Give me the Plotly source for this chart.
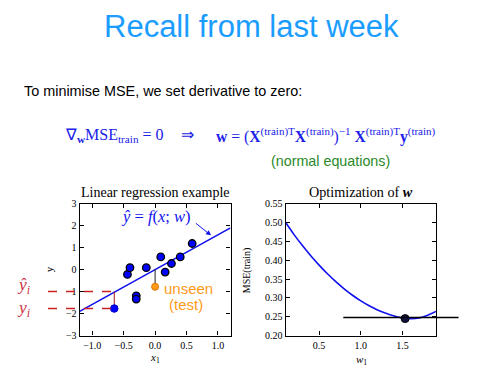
import plotly.graph_objects as go

W, H = 503, 373

# ---------------- data ----------------
train_x = [-0.44, -0.40, -0.14, -0.30, -0.30, 0.09, 0.16, 0.26, 0.40, 0.59]
train_y = [-0.22, 0.09, 0.09, -1.19, -1.34, 0.58, -0.11, 0.28, 0.58, 1.19]
fit_x = [-1.2, 1.2]
fit_y = [-1.9, 1.9]
sel_x = [-0.65]
sel_y = [-1.77]
sel_yhat = [-1.00]
test_x = [0.0]
test_y = [-0.78]
test_yhat = [0.02]

w1 = [0.1, 0.2, 0.3, 0.4, 0.5, 0.6, 0.7, 0.8, 0.9, 1.0,
      1.1, 1.2, 1.3, 1.4, 1.5, 1.6, 1.7, 1.8, 1.9]
mse = [0.500, 0.468, 0.439, 0.412, 0.387, 0.364, 0.343, 0.324, 0.307, 0.292,
       0.279, 0.268, 0.259, 0.252, 0.247, 0.245, 0.247, 0.254, 0.264]
opt_w = [1.53]
opt_mse = [0.245]
tangent_w = [0.79, 2.17]
tangent_mse = 0.248

left_xticks = [-1.0, -0.5, 0.0, 0.5, 1.0]
left_xlabels = ["\u22121.0", "\u22120.5", "0.0", "0.5", "1.0"]
left_yticks = [-3, -2, -1, 0, 1, 2, 3]
left_ylabels = ["\u22123", "\u22122", "\u22121", "0", "1", "2", "3"]
right_xticks = [0.5, 1.0, 1.5]
right_xlabels = ["0.5", "1.0", "1.5"]
right_yticks = [0.20, 0.25, 0.30, 0.35, 0.40, 0.45, 0.50, 0.55]
right_ylabels = ["0.20", "0.25", "0.30", "0.35", "0.40", "0.45", "0.50", "0.55"]

# ---------------- layout geometry ----------------
def px_x(p):
    return p / W

def px_y(p):
    return 1 - p / H

L_DOM_X = [px_x(79.7), px_x(230.5)]
R_DOM_X = [px_x(285.7), px_x(436.0)]
DOM_Y = [px_y(340.5), px_y(204.3)]
L_RX = [-1.2, 1.2]
L_RY = [-3, 3]
R_RX = [0.1, 1.9]
R_RY = [0.2, 0.55]

def to_paper_x(v, dom, rng):
    return dom[0] + (v - rng[0]) / (rng[1] - rng[0]) * (dom[1] - dom[0])

SERIF = "Liberation Serif"
SANS = "Liberation Sans"
BLUE = "#1010ee"

fig = go.Figure()

# left plot
fig.add_trace(go.Scatter(x=fit_x, y=fit_y, mode="lines",
                         line=dict(color=BLUE, width=1.6), xaxis="x", yaxis="y"))
fig.add_trace(go.Scatter(x=[test_x[0], test_x[0]], y=[test_y[0], test_yhat[0]], mode="lines",
                         line=dict(color="#222222", width=1), xaxis="x", yaxis="y"))
fig.add_trace(go.Scatter(x=[sel_x[0], sel_x[0]], y=[sel_y[0], sel_yhat[0]], mode="lines",
                         line=dict(color="#a01818", width=1), xaxis="x", yaxis="y"))
fig.add_trace(go.Scatter(x=train_x, y=train_y, mode="markers",
                         marker=dict(color="#0000ff", size=7.5, line=dict(color="black", width=1.3)),
                         xaxis="x", yaxis="y"))
fig.add_trace(go.Scatter(x=sel_x, y=sel_y, mode="markers",
                         marker=dict(color="#0000ff", size=7.5, line=dict(color="#0000cc", width=1)),
                         xaxis="x", yaxis="y"))
fig.add_trace(go.Scatter(x=test_x, y=test_y, mode="markers",
                         marker=dict(color="#ff9a1a", size=7, line=dict(color="#e07800", width=1)),
                         xaxis="x", yaxis="y", cliponaxis=False))

# right plot
fig.add_trace(go.Scatter(x=w1, y=mse, mode="lines", line=dict(color=BLUE, width=1.6, shape="spline"),
                         xaxis="x2", yaxis="y2"))
fig.add_trace(go.Scatter(x=opt_w, y=opt_mse, mode="markers",
                         marker=dict(color="#101040", size=8, line=dict(color="black", width=1)),
                         xaxis="x2", yaxis="y2"))

axis_common = dict(showline=True, linecolor="black", linewidth=1.2, mirror="allticks",
                   ticks="inside", ticklen=4, tickwidth=1, tickcolor="black",
                   showgrid=False, zeroline=False,
                   tickfont=dict(family=SERIF, size=10, color="black"))

fig.update_layout(
    width=W, height=H, margin=dict(l=0, r=0, t=0, b=0),
    paper_bgcolor="white", plot_bgcolor="white", showlegend=False,
    xaxis=dict(domain=L_DOM_X, range=L_RX, anchor="y", tickvals=left_xticks,
               ticktext=left_xlabels, **axis_common),
    yaxis=dict(domain=DOM_Y, range=L_RY, anchor="x", tickvals=left_yticks,
               ticktext=left_ylabels, **axis_common),
    xaxis2=dict(domain=R_DOM_X, range=R_RX, anchor="y2", tickvals=right_xticks,
                ticktext=right_xlabels, **axis_common),
    yaxis2=dict(domain=DOM_Y, range=R_RY, anchor="x2", tickvals=right_yticks,
                ticktext=right_ylabels, **axis_common),
)

# shapes: dashed guides (left) and tangent line (right)
left_edge = px_x(48)
sel_px = to_paper_x(sel_x[0], L_DOM_X, L_RX)
for yy in [sel_yhat[0], sel_y[0]]:
    fig.add_shape(type="line", xref="paper", yref="y", x0=left_edge, x1=sel_px, y0=yy, y1=yy,
                  line=dict(color="#cc2020", width=1.5, dash="dash"))
fig.add_shape(type="line", xref="paper", yref="y2",
              x0=to_paper_x(tangent_w[0], R_DOM_X, R_RX), x1=to_paper_x(tangent_w[1], R_DOM_X, R_RX),
              y0=tangent_mse, y1=tangent_mse, line=dict(color="black", width=1.5))

def ann(text, x, y, size, color="black", family=SANS, xanchor="center", yanchor="middle",
        angle=0, xref="paper", yref="paper"):
    fig.add_annotation(text=text, x=x, y=y, xref=xref, yref=yref, showarrow=False,
                       xanchor=xanchor, yanchor=yanchor, textangle=angle,
                       font=dict(family=family, size=size, color=color))

# slide text
ann("Recall from last week", px_x(251), px_y(21), 31, color="#1a9dff")
ann("To minimise MSE, we set derivative to zero:", px_x(22), px_y(88), 14.4, xanchor="left")
EQ = "#2020e8"
ann("\u2207<sub><b>w</b></sub>MSE<sub>train</sub> = 0", px_x(63), px_y(134), 16,
    color=EQ, family=SERIF, xanchor="left")
ann("\u21d2", px_x(187), px_y(133), 16, color=EQ, family=SERIF)
ann("<b>w</b> = (<b>X</b><sup>(train)T</sup><b>X</b><sup>(train)</sup>)<sup>\u22121</sup> "
    "<b>X</b><sup>(train)T</sup><b>y</b><sup>(train)</sup>",
    px_x(214), px_y(134), 15.7, color=EQ, family=SERIF, xanchor="left")
ann("(normal equations)", px_x(330.5), px_y(160), 14.3, color="#2a8a2a")

# plot titles and axis labels
ann("Linear regression example", px_x(155), px_y(192.5), 14, family=SERIF)
ann("Optimization of <b><i>w</i></b>", px_x(361), px_y(192.5), 14.2, family=SERIF)
ann("y", px_x(49), px_y(272), 11, family=SERIF, angle=-90)
ann("<i>x</i><sub>1</sub>", px_x(155), px_y(364), 11, family=SERIF)
ann("MSE(train)", px_x(247), px_y(273), 10, family=SERIF, angle=-90)
ann("<i>w</i><sub>1</sub>", px_x(361), px_y(366), 11, family=SERIF)

# left-plot annotations
ann("<i>\u0177<sub>i</sub></i>", px_x(24), px_y(289), 17.5, color="#cc3344", family=SERIF)
ann("<i>y<sub>i</sub></i>", px_x(24), px_y(313), 17.5, color="#cc3344", family=SERIF)
ann("unseen", px_x(188), px_y(292), 15, color="#ff9a1a")
ann("(test)", px_x(186), px_y(308), 15, color="#ff9a1a")
ann("<i>\u0177</i> = <i>f</i>(<i>x</i>; <i>w</i>)", 0.01, 2.4, 16.5, color=BLUE, family=SERIF,
    xref="x", yref="y")
fig.add_annotation(text=" ", x=0.89, y=1.56, ax=0.60, ay=2.22, xref="x", yref="y",
                   axref="x", ayref="y", showarrow=True, arrowhead=2, arrowsize=1,
                   arrowwidth=1, arrowcolor=BLUE, standoff=0, startstandoff=0)

fig.write_html("out.html", config={"displayModeBar": False},
               post_script="document.body.style.margin='0px';document.body.style.overflow='hidden';")
